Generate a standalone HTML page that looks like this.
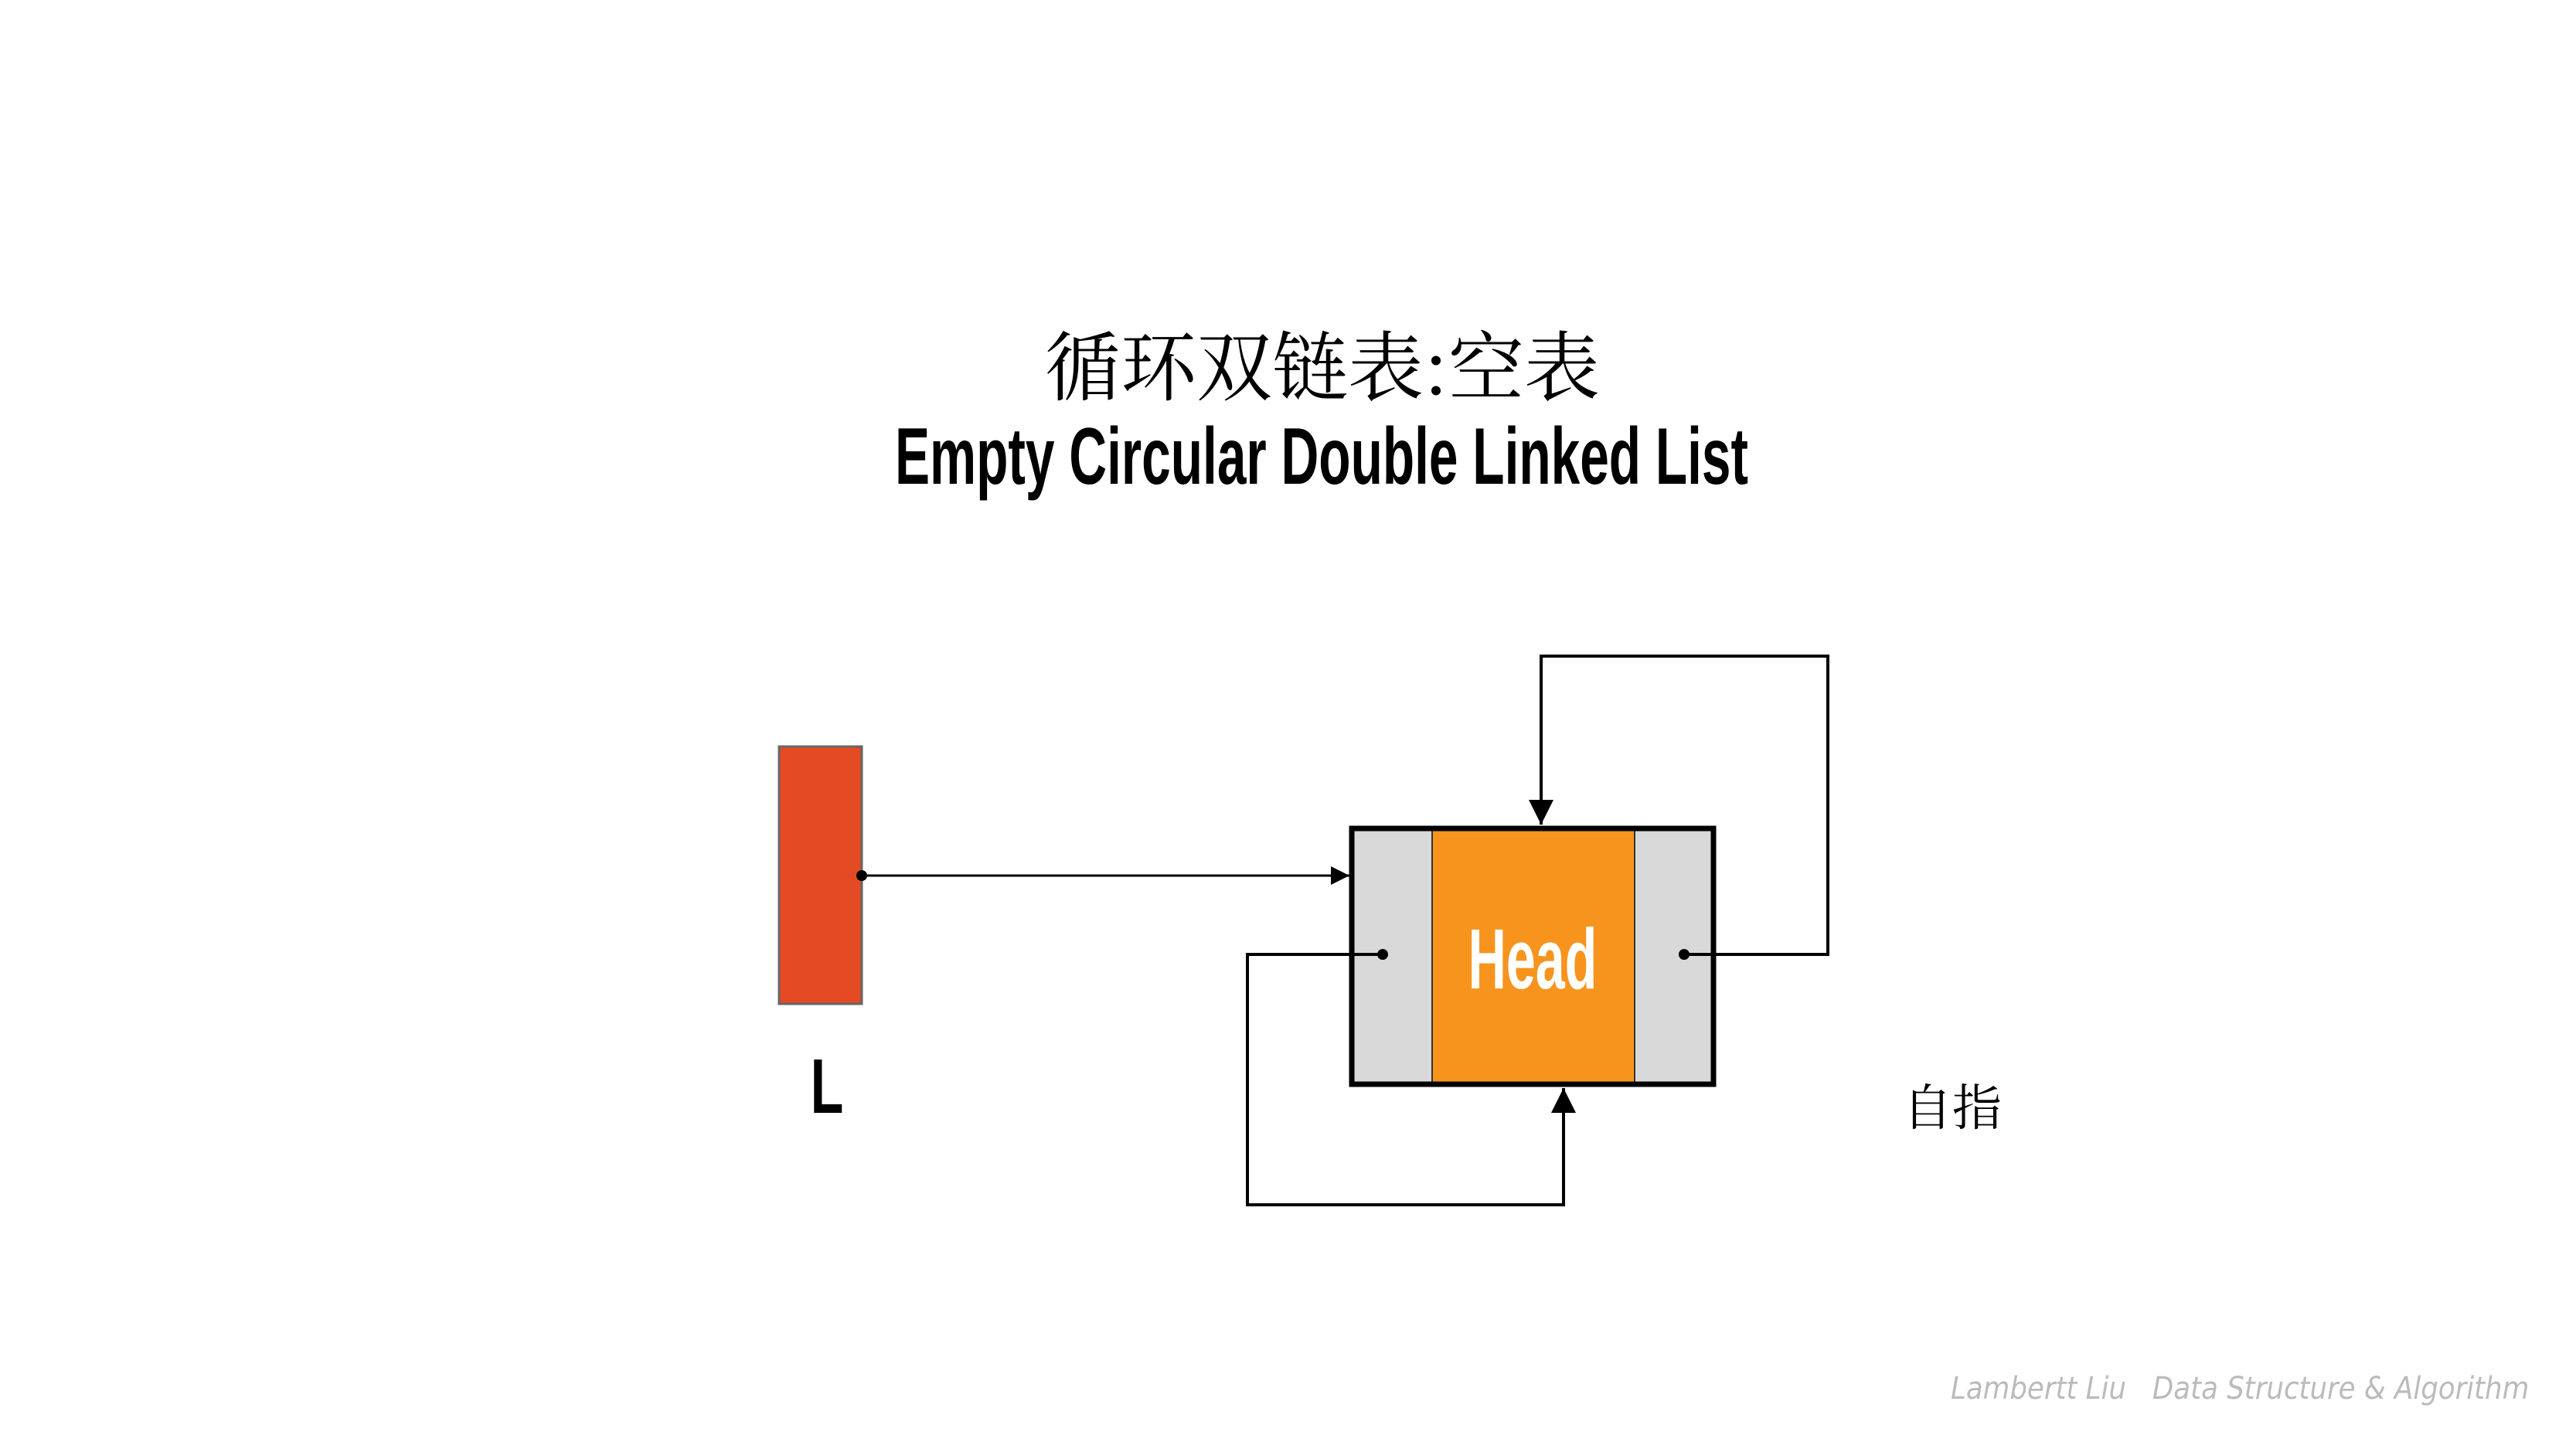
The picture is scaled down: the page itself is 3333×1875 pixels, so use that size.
<!DOCTYPE html>
<html><head><meta charset="utf-8"><style>
html,body{margin:0;padding:0;background:#fff}
svg{display:block}
</style></head><body>
<svg width="3333" height="1875" viewBox="0 0 3333 1875" xmlns="http://www.w3.org/2000/svg">
<defs>
<marker id="ah" viewBox="0 0 10 10" refX="10" refY="5" markerWidth="8" markerHeight="8" markerUnits="strokeWidth" orient="auto">
<path d="M0,0 L10,5 L0,10 z" fill="#000"/></marker>
</defs>
<rect width="3333" height="1875" fill="#fff"/>
<text x="1711" y="510" text-anchor="middle" font-family="'Noto Serif CJK SC','Liberation Serif',serif" font-size="98" fill="#000">循环双链表:空表</text>
<text x="0" y="0" text-anchor="middle" font-family="'Liberation Sans',sans-serif" font-weight="bold" font-size="104" fill="#000" transform="translate(1710,626) scale(0.65,1)">Empty Circular Double Linked List</text>
<g transform="translate(-5,-4)">
<rect x="1013" y="970" width="107" height="333" fill="#E44A24" stroke="#666" stroke-width="3"/>
<text x="0" y="0" text-anchor="middle" font-family="'Liberation Sans',sans-serif" font-weight="bold" font-size="100" fill="#000" transform="translate(1075,1444) scale(0.7,1)">L</text>
<rect x="1754" y="1076" width="468" height="331" fill="#d9d9d9"/>
<rect x="1858" y="1076" width="262" height="331" fill="#F7941E" stroke="#333" stroke-width="2"/>
<rect x="1754" y="1076" width="468" height="331" fill="none" stroke="#000" stroke-width="7"/>
<text x="0" y="0" text-anchor="middle" font-family="'Liberation Sans',sans-serif" font-weight="bold" font-size="110" fill="#fff" transform="translate(1988,1283) scale(0.62,1)">Head</text>
<line x1="1120" y1="1137" x2="1751" y2="1137" stroke="#000" stroke-width="3" marker-end="url(#ah)"/>
<circle cx="1120" cy="1137" r="7" fill="#000"/>
<polyline points="1794,1239 1619,1239 1619,1563 2028,1563 2028,1412" fill="none" stroke="#000" stroke-width="4" marker-end="url(#ah)"/>
<circle cx="1794" cy="1239" r="7" fill="#000"/>
<polyline points="2184,1239 2370,1239 2370,853 1999,853 1999,1071" fill="none" stroke="#000" stroke-width="4" marker-end="url(#ah)"/>
<circle cx="2184" cy="1239" r="7" fill="#000"/>
</g>
<text x="2526" y="1456" text-anchor="middle" font-family="'Noto Serif CJK SC','Liberation Serif',serif" font-size="64" fill="#000">自指</text>
<text x="0" y="0" font-family="'DejaVu Sans','Liberation Sans',sans-serif" font-style="italic" font-size="40" fill="#bbb" transform="translate(2524,1810) scale(0.89,1)" xml:space="preserve">Lambertt Liu   Data Structure &amp; Algorithm</text>
</svg>
</body></html>
